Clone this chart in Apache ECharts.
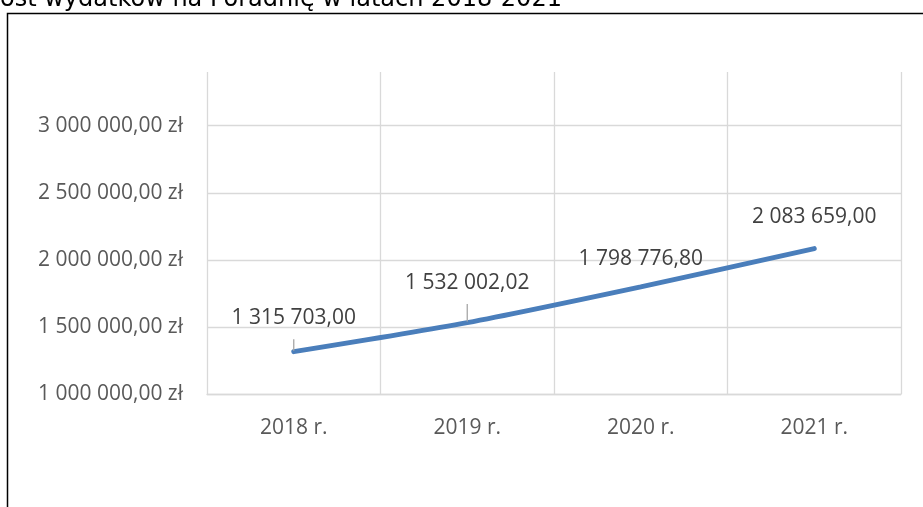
<!DOCTYPE html>
<html>
<head>
<meta charset="utf-8">
<script src="https://cdn.jsdelivr.net/npm/echarts@6/dist/echarts.min.js"></script>
<style>
  html, body { margin: 0; padding: 0; background: #fff; }
  #chart { width: 923px; height: 507px; }
</style>
</head>
<body>
<div id="chart"></div>
<script>
// dane z wykresu
const years = ['2018 r.', '2019 r.', '2020 r.', '2021 r.'];
const wydatki = [1315703.00, 1532002.02, 1798776.80, 2083659.00];
const yMin = 1000000;
const yMax = 3400000;
const yStep = 500000;

// odsunięcie etykiet od punktu (etykiety przesunięte ręcznie w oryginale)
const labelDist = [22, 28, 16, 20];

function fmt(v) {
  const parts = v.toFixed(2).split('.');
  return parts[0].replace(/\B(?=(\d{3})+(?!\d))/g, ' ') + ',' + parts[1];
}

const chart = echarts.init(document.getElementById('chart'));
const font = '"Open Sans", sans-serif';

const option = {
  backgroundColor: '#fff',
  animation: false,
  graphic: [
    {
      type: 'text',
      left: 0,
      top: -12,
      style: {
        text: 'ost wydatków na Poradnię w latach 2018-2021',
        font: '24px "DejaVu Sans"',
        fill: '#000'
      }
    },
    {
      // ramka
      type: 'rect',
      shape: { x: 7.5, y: 13.5, width: 1000, height: 1000 },
      style: { fill: 'none', stroke: '#000', lineWidth: 1.5 }
    }
  ],
  grid: { left: 207, right: 22, top: 72, bottom: 113 },
  xAxis: {
    type: 'category',
    data: years,
    boundaryGap: true,
    axisLine: { show: true, lineStyle: { color: '#d9d9d9', width: 1.3 } },
    axisTick: { show: false },
    splitLine: { show: true, lineStyle: { color: '#d9d9d9', width: 1.3 } },
    axisLabel: { color: '#595959', fontFamily: '"Liberation Sans Narrow", "Open Sans", sans-serif', fontSize: 21, margin: 24 }
  },
  yAxis: {
    type: 'value',
    min: yMin,
    max: yMax,
    interval: yStep,
    axisLine: { show: false },
    axisTick: { show: false },
    splitLine: { show: true, showMaxLine: false, lineStyle: { color: '#d9d9d9', width: 1.3 } },
    axisLabel: {
      color: '#595959', fontFamily: font, fontSize: 21, margin: 24,
      showMaxLabel: false,
      formatter: function (v) { return fmt(v) + ' zł'; }
    }
  },
  series: [{
    type: 'line',
    data: wydatki.map(function (v, i) {
      return {
        value: v,
        label: { distance: labelDist[i] },
        labelLine: { show: i < 2 }
      };
    }),
    smooth: 0.25,
    showSymbol: true,
    symbol: 'circle',
    symbolSize: 2,
    itemStyle: { color: 'transparent', borderWidth: 0 },
    lineStyle: { color: '#4a7ebb', width: 5, cap: 'round' },
    label: {
      show: true,
      position: 'top',
      color: '#404040',
      fontFamily: font,
      fontSize: 21,
      formatter: function (p) { return fmt(p.value); }
    },
    labelLine: { show: true, lineStyle: { color: '#a6a6a6', width: 1.3 } }
  }]
};

chart.setOption(option);
</script>
</body>
</html>
